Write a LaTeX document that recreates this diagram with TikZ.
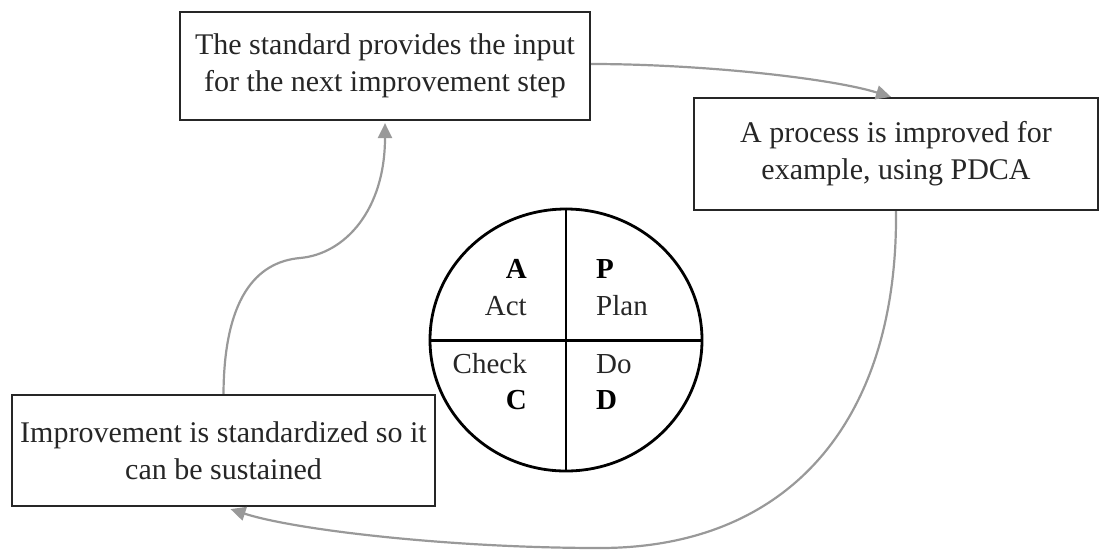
\documentclass[tikz,border=0pt]{standalone}
\usepackage{fontspec}
\setmainfont{Liberation Serif}
\usetikzlibrary{shapes}
\usetikzlibrary{positioning}
\usetikzlibrary{arrows.meta}
\tikzset{
    mybox/.style = {rectangle, line width=2.2pt, draw=black!85, align=center, inner sep=0pt, text=black!85, font=\fontsize{30}{37}\selectfont},
    pdcacirc/.style = {ellipse, line width=2.8pt, draw=black, inner sep=0pt, minimum width=272pt, minimum height=262pt},
    lbl/.style = {inner sep=0pt, text=black!85, font=\fontsize{29}{34}\selectfont},
    lblb/.style = {inner sep=0pt, text=black, font=\fontsize{29}{34}\selectfont\bfseries},
    edgeg/.style = {-{Triangle[length=15pt,width=14pt]}, line width=2.2pt, draw=gray!80},
    edgegn/.style = {line width=2.2pt, draw=gray!80}
}

\begin{document}
\begin{tikzpicture}[x=1pt, y=-1pt]
  \useasboundingbox (0,0) rectangle (1105,550);

  % the three boxes
  \node[mybox, minimum width=410pt, minimum height=108pt] (std) at (385,66)
    {The standard provides the input\\for the next improvement step};
  \node[mybox, minimum width=404pt, minimum height=112pt] (proc) at (896,154)
    {A process is improved for\\example, using PDCA};
  \node[mybox, minimum width=423pt, minimum height=111pt] (impr) at (223.5,450.5)
    {Improvement is standardized so it\\can be sustained};

  % PDCA circle
  \node[pdcacirc] (pdca) at (566,340) {};
  \draw[line width=2pt] (pdca.north) -- (pdca.south);
  \draw[line width=3pt] (pdca.west) -- (pdca.east);

  \node[lblb, anchor=base east] (lA) at (527,278) {A};
  \node[lbl, anchor=base east] (lAct) at (527,315) {Act};
  \node[lblb, anchor=base west] (lP) at (596,278) {P};
  \node[lbl, anchor=base west] (lPlan) at (596,315) {Plan};
  \node[lbl, anchor=base east] (lCheck) at (527,373) {Check};
  \node[lblb, anchor=base east] (lC) at (527,409) {C};
  \node[lbl, anchor=base west] (lDo) at (596,373) {Do};
  \node[lblb, anchor=base west] (lD) at (596,409) {D};

  % connectors
  \coordinate (btm) at (600,548);
  \coordinate (bend) at (300,258);
  \draw[edgeg] ([yshift=2pt]std.east) .. controls (700,64) and (830,78) .. ([xshift=-5pt]proc.north);
  \draw[edgegn] (proc.south) .. controls (898,420) and (790,548) .. (btm);
  \draw[edgeg] (btm) .. controls (450,548) and (295,530) .. ([xshift=7pt,yshift=-2pt]impr.south);
  \draw[edgegn] (impr.north) .. controls (224,300) and (255,262) .. (bend);
  \draw[edgeg] (bend) .. controls (345,254) and (385,210) .. ([yshift=-2pt]std.south);
\end{tikzpicture}
\end{document}
